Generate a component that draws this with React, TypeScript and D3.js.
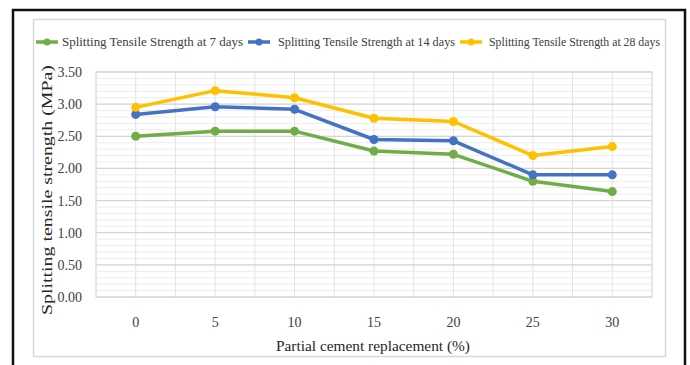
import React from "react";
import * as d3 from "d3";

const categories = ["0", "5", "10", "15", "20", "25", "30"];
const seriesNames = [
  "Splitting Tensile Strength at 7 days",
  "Splitting Tensile Strength at 14 days",
  "Splitting Tensile Strength at 28 days",
];
const days7 = [2.5, 2.58, 2.58, 2.27, 2.22, 1.8, 1.64];
const days14 = [2.84, 2.96, 2.92, 2.45, 2.43, 1.9, 1.9];
const days28 = [2.95, 3.21, 3.1, 2.78, 2.73, 2.2, 2.34];
const yTicks = [0, 0.5, 1, 1.5, 2, 2.5, 3, 3.5];
const colors = ["#70AD47", "#4472C4", "#FFC000"];

const W = 690;
const H = 365;
const plot = { left: 96, right: 652, top: 72, bottom: 297 };

export default function App() {
  const x = d3
    .scaleBand<string>()
    .domain(categories)
    .range([plot.left, plot.right]);
  const y = d3.scaleLinear().domain([0, 3.5]).range([plot.bottom, plot.top]);
  const cx = (c: string) => (x(c) as number) + x.bandwidth() / 2;

  const series = [days7, days14, days28];
  const line = d3
    .line<number>()
    .x((_, i) => cx(categories[i]))
    .y((d) => y(d));

  const minorY = d3.range(0, 3.5001, 0.1).map((v) => +v.toFixed(2));
  const vLines: number[] = [];
  categories.forEach((c) => {
    const s = x(c) as number;
    vLines.push(s, s + x.bandwidth() / 2);
  });
  vLines.push(plot.right);

  const legendItems = [
    { lx: 36, tx: 62, tl: 181 },
    { lx: 248, tx: 278, tl: 177 },
    { lx: 460, tx: 489, tl: 171 },
  ];

  const serif = "'Liberation Serif', 'DejaVu Serif', serif";

  return (
    <svg
      width={W}
      height={H}
      style={{ position: "absolute", left: 0, top: 0, background: "#fff" }}
    >
      <rect x={0} y={0} width={W} height={H} fill="#fff" />
      {/* outer black frame */}
      <path
        d={`M13,${H} L13,10 L685,10 L685,${H}`}
        fill="none"
        stroke="#111"
        strokeWidth={2.5}
      />
      {/* chart area */}
      <rect
        x={33.5}
        y={19.5}
        width={632}
        height={337}
        fill="#fff"
        stroke="#d9d9d9"
        strokeWidth={1.5}
      />
      {/* minor gridlines */}
      {minorY.map((v) => (
        <line
          key={"m" + v}
          x1={plot.left}
          x2={plot.right}
          y1={y(v)}
          y2={y(v)}
          stroke="#ececec"
          strokeWidth={1}
        />
      ))}
      {vLines.map((v, i) => (
        <line
          key={"v" + i}
          x1={v}
          x2={v}
          y1={plot.top}
          y2={plot.bottom}
          stroke="#e3e3e3"
          strokeWidth={1}
        />
      ))}
      {yTicks.map((v) => (
        <line
          key={"g" + v}
          x1={plot.left}
          x2={plot.right}
          y1={y(v)}
          y2={y(v)}
          stroke="#d6d6d6"
          strokeWidth={1.3}
        />
      ))}
      <rect
        x={plot.left}
        y={plot.top}
        width={plot.right - plot.left}
        height={plot.bottom - plot.top}
        fill="none"
        stroke="#dcdcdc"
        strokeWidth={1}
      />
      {/* y tick labels */}
      {yTicks.map((v) => (
        <text
          key={"t" + v}
          x={82}
          y={y(v) + 5}
          textAnchor="end"
          fontFamily={serif}
          fontSize={14}
          fill="#404040"
        >
          {v.toFixed(2)}
        </text>
      ))}
      {/* x tick labels */}
      {categories.map((c) => (
        <text
          key={"x" + c}
          x={cx(c)}
          y={327}
          textAnchor="middle"
          fontFamily={serif}
          fontSize={14}
          fill="#404040"
        >
          {c}
        </text>
      ))}
      {/* axis titles */}
      <text
        x={373}
        y={351}
        textAnchor="middle"
        fontFamily={serif}
        fontSize={15}
        fill="#262626"
        textLength={194}
        lengthAdjust="spacingAndGlyphs"
      >
        Partial cement replacement (%)
      </text>
      <text
        transform={`translate(52,${190}) rotate(-90)`}
        textAnchor="middle"
        fontFamily={serif}
        fontSize={15}
        fill="#262626"
        textLength={250}
        lengthAdjust="spacingAndGlyphs"
      >
        Splitting tensile strength (MPa)
      </text>
      {/* lines */}
      {series.map((s, si) => (
        <g key={"s" + si}>
          <path
            d={line(s) || ""}
            fill="none"
            stroke={colors[si]}
            strokeWidth={3.5}
            strokeLinejoin="round"
          />
          {s.map((v, i) => (
            <circle
              key={i}
              cx={cx(categories[i])}
              cy={y(v)}
              r={4.5}
              fill={colors[si]}
            />
          ))}
        </g>
      ))}
      {/* legend */}
      {legendItems.map((it, i) => (
        <g key={"l" + i}>
          <line
            x1={it.lx}
            x2={it.lx + 22}
            y1={42}
            y2={42}
            stroke={colors[i]}
            strokeWidth={3.5}
          />
          <circle cx={it.lx + 11} cy={42} r={3.5} fill={colors[i]} />
          <text
            x={it.tx}
            y={46}
            fontFamily={serif}
            fontSize={11.5}
            fill="#404040"
            textLength={it.tl}
            lengthAdjust="spacingAndGlyphs"
          >
            {seriesNames[i]}
          </text>
        </g>
      ))}
    </svg>
  );
}
